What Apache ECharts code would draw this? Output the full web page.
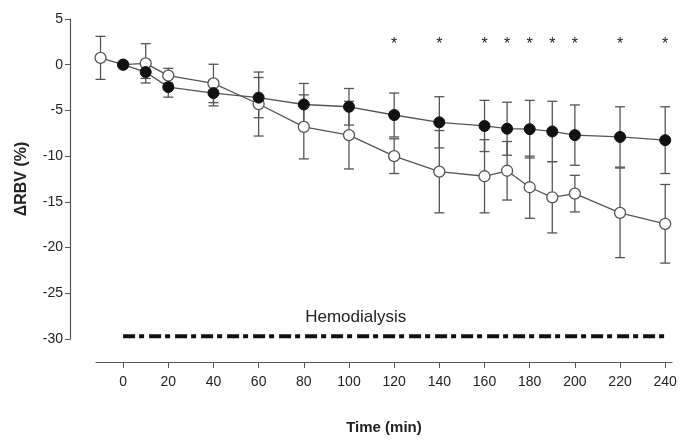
<!DOCTYPE html>
<html>
<head>
<meta charset="utf-8">
<script src="https://cdn.jsdelivr.net/npm/echarts@6/dist/echarts.min.js"></script>
<style>
  html, body { margin: 0; padding: 0; background: #fff; }
  #container { width: 682px; height: 441px; }
</style>
</head>
<body>
<div id="container"></div>
<script>
// time points (min)
var times = [-10, 0, 10, 20, 40, 60, 80, 100, 120, 140, 160, 170, 180, 190, 200, 220, 240];

// filled circles: mean and SD of delta RBV (%)
var filledMean = [null, 0, -0.8, -2.45, -3.1, -3.6, -4.35, -4.6, -5.5, -6.3, -6.7, -7.0, -7.05, -7.3, -7.7, -7.9, -8.25];
var filledSD = [null, 0, 0.7, 1.1, 1.4, 2.2, 2.3, 2.0, 2.4, 2.8, 2.8, 2.9, 3.15, 3.3, 3.3, 3.3, 3.65];

// open circles: mean and SD
var openMean = [0.75, 0, 0.15, -1.2, -2.05, -4.3, -6.8, -7.7, -10.0, -11.7, -12.2, -11.6, -13.4, -14.5, -14.1, -16.2, -17.4];
var openSD = [2.35, 0, 2.15, 0.8, 2.1, 3.5, 3.5, 3.7, 1.9, 4.5, 4.0, 3.2, 3.4, 3.9, 2.0, 4.9, 4.3];

// significance marks
var starTimes = [120, 140, 160, 170, 180, 190, 200, 220, 240];
var starLevel = 2.2;

// hemodialysis bar
var hdStart = 0, hdEnd = 240, hdLevel = -29.7;
var hdLabel = 'Hemodialysis';

var xTicks = [0, 20, 40, 60, 80, 100, 120, 140, 160, 180, 200, 220, 240];

var font = '"Liberation Sans", Arial, Helvetica, sans-serif';
var axisColor = '#555';
var markColor = '#555';

var container = document.getElementById('container');
var charts = echarts.init(container);

function pairs(means) {
    var out = [];
    for (var i = 0; i < times.length; i++) {
        if (means[i] !== null) out.push([times[i], means[i]]);
    }
    return out;
}

function errorData(means, sds) {
    var out = [];
    for (var i = 0; i < times.length; i++) {
        if (means[i] === null || !sds[i]) continue;
        out.push([times[i], means[i] - sds[i], means[i] + sds[i]]);
    }
    return out;
}

/*
 * error bar with caps
 */
function renderErrorBar(params, api) {
    var x = api.value(0);
    var lo = api.coord([x, api.value(1)]);
    var hi = api.coord([x, api.value(2)]);
    var w = 5;
    var style = { stroke: markColor, lineWidth: 1.3 };
    return {
        type: 'group',
        children: [
            { type: 'line', shape: { x1: lo[0], y1: lo[1], x2: hi[0], y2: hi[1] }, style: style },
            { type: 'line', shape: { x1: lo[0] - w, y1: lo[1], x2: lo[0] + w, y2: lo[1] }, style: style },
            { type: 'line', shape: { x1: hi[0] - w, y1: hi[1], x2: hi[0] + w, y2: hi[1] }, style: style }
        ]
    };
}

function renderText(params, api) {
    var p = api.coord([api.value(0), api.value(1)]);
    var item = textItems[params.dataIndex];
    return {
        type: 'text',
        x: p[0],
        y: p[1],
        style: {
            text: item.text,
            fontSize: item.size,
            fontFamily: font,
            fill: '#222',
            align: 'center',
            verticalAlign: 'middle'
        }
    };
}

var textItems = starTimes.map(function (t) {
    return { value: [t, starLevel], text: '*', size: 16 };
});
textItems.push({ value: [(hdStart + hdEnd) / 2 - 17, hdLevel + 2.1], text: hdLabel, size: 17 });

var option = {
    backgroundColor: '#fff',
    animation: false,
    grid: { left: 96, right: 10, top: 19, bottom: 102 },
    xAxis: {
        type: 'value',
        min: -12,
        max: 243,
        offset: 23,
        name: 'Time (min)',
        nameLocation: 'middle',
        nameGap: 58,
        nameTextStyle: { fontFamily: font, fontSize: 15, fontWeight: 'bold', color: '#222' },
        splitLine: { show: false },
        axisLine: { onZero: false, lineStyle: { color: axisColor, width: 1.2 } },
        axisTick: { length: 6, customValues: xTicks, lineStyle: { color: axisColor } },
        axisLabel: { customValues: xTicks, fontFamily: font, fontSize: 14, color: '#222', margin: 13 }
    },
    yAxis: {
        type: 'value',
        min: -30,
        max: 5,
        interval: 5,
        offset: 26,
        name: 'ΔRBV (%)',
        nameLocation: 'middle',
        nameRotate: 90,
        nameGap: 40,
        nameTextStyle: { fontFamily: font, fontSize: 16, fontWeight: 'bold', color: '#222' },
        splitLine: { show: false },
        axisLine: { show: true, onZero: false, lineStyle: { color: axisColor, width: 1.2 } },
        axisTick: { show: true, length: 5, lineStyle: { color: axisColor } },
        axisLabel: { fontFamily: font, fontSize: 14, color: '#222', margin: 7 }
    },
    series: [
        {
            type: 'custom',
            renderItem: renderErrorBar,
            data: errorData(openMean, openSD),
            z: 1
        },
        {
            type: 'custom',
            renderItem: renderErrorBar,
            data: errorData(filledMean, filledSD),
            z: 1
        },
        {
            type: 'line',
            data: pairs(openMean),
            symbol: 'circle',
            symbolSize: 11,
            lineStyle: { color: markColor, width: 1.3 },
            itemStyle: { color: '#fff', borderColor: '#555', borderWidth: 1.3 },
            z: 3
        },
        {
            type: 'line',
            data: pairs(filledMean),
            symbol: 'circle',
            symbolSize: 11,
            lineStyle: { color: markColor, width: 1.3 },
            itemStyle: { color: '#111', borderColor: '#111', borderWidth: 1 },
            z: 4
        },
        {
            type: 'line',
            data: [[hdStart, hdLevel], [hdEnd, hdLevel]],
            symbol: 'none',
            lineStyle: { color: '#111', width: 4, type: [12, 4, 5, 5] },
            z: 2
        },
        {
            type: 'custom',
            renderItem: renderText,
            data: textItems.map(function (d) { return d.value; }),
            z: 5
        }
    ]
};

charts.setOption(option, true);
</script>
</body>
</html>
